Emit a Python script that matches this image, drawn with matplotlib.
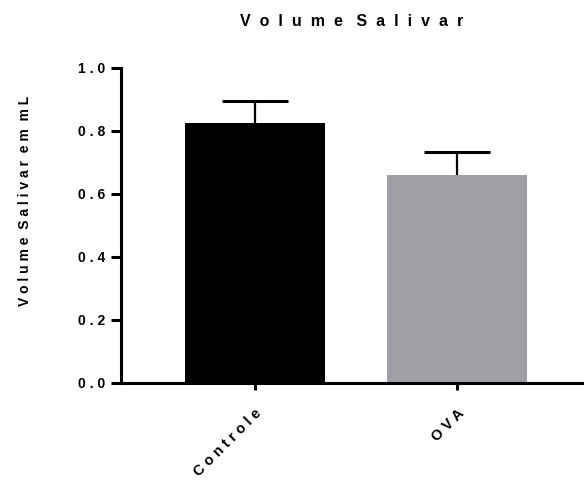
import matplotlib.pyplot as plt

plt.rcParams['font.family'] = ['Liberation Sans', 'DejaVu Sans']
plt.rcParams['font.weight'] = 'bold'
plt.rcParams['axes.titleweight'] = 'bold'
plt.rcParams['axes.labelweight'] = 'bold'

# data
groups = ["Controle", "OVA"]
means = [0.824, 0.661]
sem = [0.070, 0.071]
colors = ["#000000", "#A0A0A4"]
title = "Volume Salivar"
ylabel = "Volume Salivar em mL"


def spaced(s, gap=" ", word_gap="  "):
    words = [gap.join(w) for w in s.split(" ")]
    return word_gap.join(words)


fig = plt.figure(figsize=(5.84, 4.84), dpi=100)
ax = fig.add_axes([0.207, 0.209, 0.791, 0.651])

x = list(range(len(groups)))
tops = [m + e for m, e in zip(means, sem)]
ax.bar(x, means, width=0.69, color=colors, zorder=2)
# upper error bars only
ax.vlines(x, means, tops, color='black', linewidth=1.6, zorder=3)
ax.hlines(tops, [i - 0.163 for i in x], [i + 0.163 for i in x],
          color='black', linewidth=2.2, zorder=3)

ax.set_xlim(-0.66, 1.62)
ax.set_ylim(0, 1.0)
ax.set_yticks([0.0, 0.2, 0.4, 0.6, 0.8, 1.0])
ax.set_yticklabels([spaced(f"{v:.1f}") for v in ax.get_yticks()], fontsize=10)
ax.set_xticks(x)
ax.set_xticklabels([spaced(g) for g in groups], rotation=45, ha='right',
                   va='top', rotation_mode='anchor', fontsize=10.5)

for side in ['top', 'right']:
    ax.spines[side].set_visible(False)
for side in ['left', 'bottom']:
    ax.spines[side].set_linewidth(2.2)
ax.tick_params(axis='y', length=7, width=2.2, pad=4)
ax.tick_params(axis='x', length=5, width=2.2, pad=12)

ax.set_ylabel(spaced(ylabel), fontsize=10)
ax.yaxis.set_label_coords(-0.193, 0.576)
ax.set_title(spaced(title, "  ", "   "), fontsize=11.5, pad=30)

fig.savefig("out.png", dpi=100)
